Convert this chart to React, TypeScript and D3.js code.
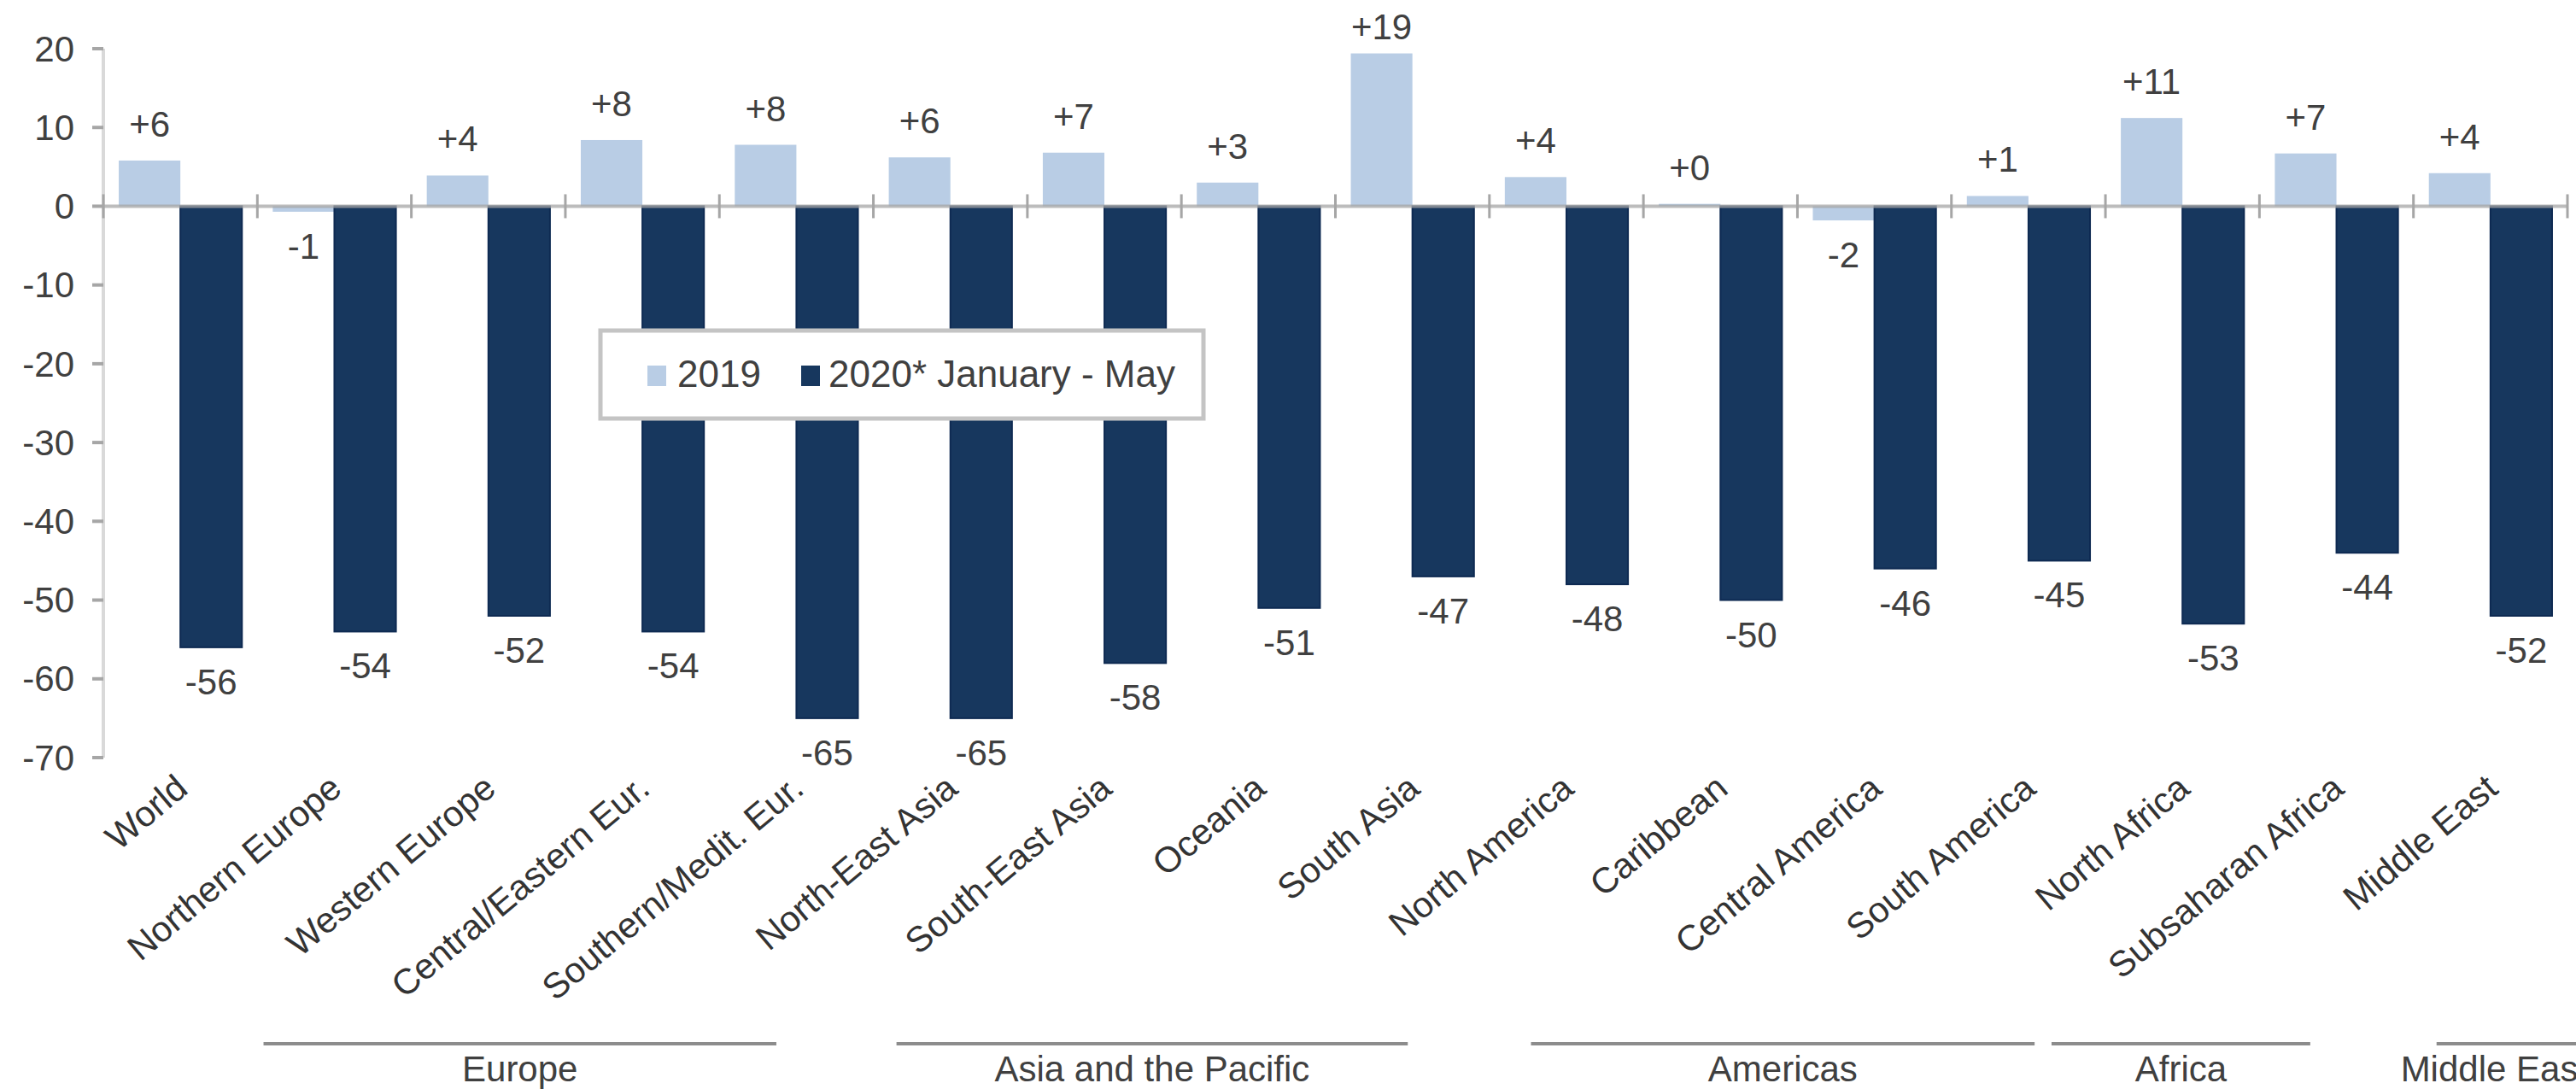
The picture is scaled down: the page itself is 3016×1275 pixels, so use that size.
import React from 'react';
import * as d3 from 'd3';

// regions along the x axis
const categories = [
  'World', 'Northern Europe', 'Western Europe', 'Central/Eastern Eur.', 'Southern/Medit. Eur.',
  'North-East Asia', 'South-East Asia', 'Oceania', 'South Asia', 'North America', 'Caribbean',
  'Central America', 'South America', 'North Africa', 'Subsaharan Africa', 'Middle East'
];

// % change in international arrivals
const values2019 = [5.8, -0.7, 3.9, 8.4, 7.8, 6.2, 6.8, 3.0, 19.4, 3.7, 0.3, -1.8, 1.3, 11.2, 6.7, 4.2];
const values2020 = [-56, -54, -52, -54, -65, -65, -58, -51, -47, -48, -50, -46, -45, -53, -44, -52];

const seriesNames = ['2019', '2020* January - May'];
const yTicks = [20, 10, 0, -10, -20, -30, -40, -50, -60, -70];

// region groups under the axis labels (spans in category units)
const groupNames = ['Europe', 'Asia and the Pacific', 'Americas', 'Africa', 'Middle East'];
const groupFrom = [1.04, 5.15, 9.27, 12.65, 15.15];
const groupTo = [4.37, 8.47, 12.54, 14.33, 16.6];

const W = 3016;
const H = 1275;
const FONT = '"Liberation Sans", Arial, sans-serif';
const LIGHT = '#B9CDE5';
const DARK = '#17375E';
const TEXT = '#404040';

const fmt2019 = (v: number) => (v < 0 ? '-' : '+') + Math.abs(Math.round(v));
const fmt2020 = (v: number) => (v < 0 ? '-' : '') + Math.abs(Math.round(v));

export default function App() {
  const x = d3.scaleBand<string>().domain(categories).range([121, 3006]).padding(0);
  const xs = d3.scaleBand<string>().domain(seriesNames).range([0, x.bandwidth()])
    .paddingInner(0).paddingOuter(0.25);
  const y = d3.scaleLinear().domain([-70, 20]).range([887, 57]);
  const xu = d3.scaleLinear().domain([0, categories.length]).range([121, 3006]);

  const y0 = y(0);
  const series = [
    { name: seriesNames[0], values: values2019, color: LIGHT, fmt: fmt2019 },
    { name: seriesNames[1], values: values2020, color: DARK, fmt: fmt2020 }
  ];

  const boundaries = d3.range(categories.length + 1).map(i => xu(i));

  return (
    <svg width={W} height={H} style={{ position: 'absolute', left: 0, top: 0, background: '#fff' }}
      fontFamily={FONT}>
      {/* y axis */}
      <line x1={121} x2={121} y1={y(20)} y2={y(-70)} stroke="#D9D9D9" strokeWidth={4} />
      {yTicks.map(t => (
        <g key={`yt-${t}`}>
          <line x1={108} x2={121} y1={y(t)} y2={y(t)} stroke="#A6A6A6" strokeWidth={4} />
          <text x={87} y={y(t)} dy="0.35em" textAnchor="end" fontSize={42} fill={TEXT}>{t}</text>
        </g>
      ))}

      {/* bars */}
      {series.map(s => (
        <g key={`s-${s.name}`}>
          {s.values.map((v, i) => {
            const bx = (x(categories[i]) || 0) + (xs(s.name) || 0);
            return (
              <rect key={`b-${s.name}-${i}`} x={bx} width={xs.bandwidth()}
                y={Math.min(y(v), y0)} height={Math.abs(y(v) - y0)}
                fill={s.color} stroke={s.color === DARK ? '#0E2A52' : 'none'} strokeWidth={2} />
            );
          })}
        </g>
      ))}

      {/* zero axis with cross ticks */}
      <line x1={121} x2={3006} y1={y0} y2={y0} stroke="#A6A6A6" strokeWidth={4} opacity={0.75} />
      {boundaries.map((bx, i) => (
        <line key={`xt-${i}`} x1={bx} x2={bx} y1={y0 - 14} y2={y0 + 14} stroke="#A6A6A6" strokeWidth={3} />
      ))}

      {/* data labels */}
      {series.map(s => (
        <g key={`l-${s.name}`}>
          {s.values.map((v, i) => {
            const cx = (x(categories[i]) || 0) + (xs(s.name) || 0) + xs.bandwidth() / 2;
            // labels that would leave the top of the picture sit closer to their bar
            const ly = v >= 0 ? Math.max(y(v) - 28, 46) : y(v) + 55;
            return (
              <text key={`lt-${s.name}-${i}`} x={cx} y={ly} textAnchor="middle" fontSize={42} fill={TEXT}>
                {s.fmt(v)}
              </text>
            );
          })}
        </g>
      ))}

      {/* category labels */}
      {categories.map(c => {
        const px = (x(c) || 0) + x.bandwidth() / 2 + 11;
        const py = 927;
        return (
          <text key={`c-${c}`} x={px} y={py} textAnchor="end" fontSize={42} fill="#333333"
            transform={`rotate(-40, ${px}, ${py})`}>
            {c}
          </text>
        );
      })}

      {/* group lines */}
      {groupNames.map((g, i) => {
        const x1 = xu(groupFrom[i]);
        const x2 = xu(groupTo[i]);
        const mid = (x1 + Math.min(x2, xu(15.9))) / 2;
        return (
          <g key={`g-${g}`}>
            <line x1={x1} x2={x2} y1={1222} y2={1222} stroke="#8C8C8C" strokeWidth={4} />
            <text x={mid} y={1266} textAnchor="middle" fontSize={42} fill={TEXT}>{g}</text>
          </g>
        );
      })}

      {/* legend */}
      <g>
        <rect x={703} y={387} width={706} height={103} fill="#fff" stroke="#C4C4C4" strokeWidth={5} />
        <rect x={758} y={428} width={22} height={24} fill={LIGHT} />
        <text x={793} y={453} fontSize={44} fill={TEXT}>{seriesNames[0]}</text>
        <rect x={938} y={428} width={22} height={24} fill={DARK} />
        <text x={970} y={453} fontSize={44} fill={TEXT}>{seriesNames[1]}</text>
      </g>
    </svg>
  );
}
